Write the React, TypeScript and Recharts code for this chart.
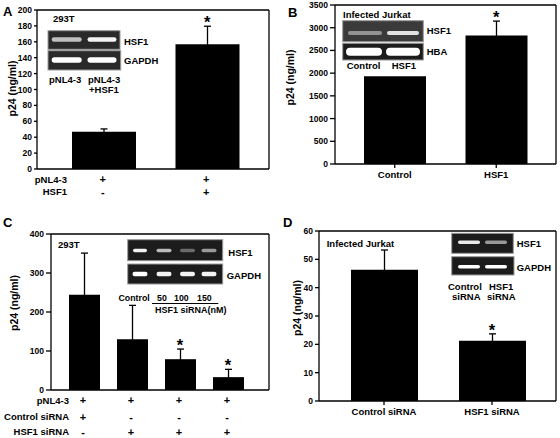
import React from "react";
import {
  BarChart,
  Bar,
  XAxis,
  YAxis,
  ErrorBar,
  ReferenceDot,
  CartesianGrid,
} from "recharts";

const FONT = "'Liberation Sans', Arial, Helvetica, sans-serif";

// A: 293T, pNL4-3 with / without HSF1
const aCategories = ["pNL4-3", "pNL4-3+HSF1"];
const aValues = [47, 157];
const aErrors = [3.4, 22.6];
const aStars = [false, true];
const aRowNames = ["pNL4-3", "HSF1"];
const aRowSigns = [
  ["+", "+"],
  ["-", "+"],
];
const aTicks = [0, 20, 40, 60, 80, 100, 120, 140, 160, 180, 200];

// B: infected Jurkat, HSF1 overexpression
const bCategories = ["Control", "HSF1"];
const bValues = [1930, 2828];
const bErrors = [0, 318];
const bStars = [false, true];
const bTicks = [0, 500, 1000, 1500, 2000, 2500, 3000, 3500];

// C: 293T, HSF1 siRNA dose
const cCategories = ["Control", "50", "100", "150"];
const cValues = [244, 130, 79, 33];
const cErrors = [107, 87, 26, 20];
const cStars = [false, false, true, true];
const cRowNames = ["pNL4-3", "Control siRNA", "HSF1 siRNA"];
const cRowSigns = [
  ["+", "+", "+", "+"],
  ["+", "-", "-", "-"],
  ["-", "+", "+", "+"],
];
const cTicks = [0, 100, 200, 300, 400];

// D: infected Jurkat, siRNA knockdown
const dCategories = ["Control siRNA", "HSF1 siRNA"];
const dValues = [46.3, 21.3];
const dErrors = [7, 2.4];
const dStars = [false, true];
const dTicks = [0, 10, 20, 30, 40, 50, 60];

// only the upper half of each error bar shows above the black bar,
// so a symmetric error is fine; zero errors are dropped
const toRows = (cats: string[], vals: number[], errs: number[], stars: boolean[]) =>
  cats.map((c, i) => ({
    cat: c,
    value: vals[i],
    err: errs[i] > 0 ? errs[i] : undefined,
    top: vals[i] + errs[i],
    star: stars[i],
  }));

const txt = { fontFamily: FONT, fontWeight: "bold" as const, fill: "#000" };

function AxisTitle({ viewBox, cx, dy }: any) {
  const x = viewBox.x + cx;
  const y = viewBox.y + viewBox.height / 2 + dy;
  return (
    <text
      x={x}
      y={y}
      transform={`rotate(-90 ${x} ${y})`}
      textAnchor="middle"
      dominantBaseline="central"
      fontSize={10.5}
      {...txt}
    >
      p24 (ng/ml)
    </text>
  );
}

const signTick = (rows: string[][], offsets: number[]) => (t: any) => {
  const idx = t.index ?? t.payload?.index ?? 0;
  return (
    <g>
      {rows.map((r, i) => (
        <text
          key={i}
          x={t.x - 1}
          y={t.y + offsets[i]}
          textAnchor="middle"
          dominantBaseline="central"
          fontSize={11}
          {...txt}
        >
          {r[idx]}
        </text>
      ))}
    </g>
  );
};

function Panel(p: any) {
  const line = { stroke: "#000", strokeWidth: 1.3 };
  return (
    <div style={{ position: "absolute", left: p.left, top: p.top }}>
      <BarChart width={p.width} height={p.height} data={p.data} margin={p.margin}>
        <CartesianGrid
          stroke="#000"
          strokeWidth={1.3}
          horizontalCoordinatesGenerator={(g: any) => [g.offset.top]}
          verticalCoordinatesGenerator={(g: any) => [g.offset.left + g.offset.width]}
        />
        <XAxis
          dataKey="cat"
          interval={0}
          height={p.xHeight}
          padding={p.padding}
          axisLine={line}
          tickLine={p.xTick ? false : line}
          tickSize={p.xTick ? 0 : 4}
          tickMargin={p.xTick ? 0 : 3}
          tick={p.xTick ?? { ...txt, fontSize: 9.5 }}
        />
        <YAxis
          type="number"
          domain={[0, p.ticks[p.ticks.length - 1]]}
          ticks={p.ticks}
          interval={0}
          width={p.yWidth}
          tickSize={p.yTickSize}
          tickMargin={2}
          axisLine={line}
          tickLine={line}
          tick={{ ...txt, fontSize: 8.5 }}
          label={<AxisTitle cx={p.titleX} dy={p.titleDy} />}
        />
        <Bar dataKey="value" fill="#000" barSize={p.barSize} isAnimationActive={false}>
          <ErrorBar dataKey="err" width={3.5} stroke="#000" strokeWidth={1.3} direction="y" />
        </Bar>
        {p.data
          .filter((d: any) => d.star)
          .map((d: any) => (
            <ReferenceDot
              key={d.cat}
              x={d.cat}
              y={d.top}
              r={0}
              shape={(s: any) => (
                <text x={s.cx} y={s.cy + 2} textAnchor="middle" fontSize={16.5} {...txt}>
                  *
                </text>
              )}
            />
          ))}
      </BarChart>
    </div>
  );
}

function Gel({ x, y, w, h, bg = "#1c1c1c", bandY, bandH, lanes }: any) {
  return (
    <g>
      <rect x={x} y={y} width={w} height={h} fill={bg} stroke="#999" strokeWidth={1} />
      {lanes.map((l: number[], i: number) => (
        <rect
          key={i}
          x={l[0] - l[1] / 2}
          y={bandY - bandH / 2}
          width={l[1]}
          height={bandH}
          rx={bandH / 2}
          fill="#fff"
          opacity={l[2]}
          filter="url(#bandBlur)"
        />
      ))}
    </g>
  );
}

function T({ x, y, s = 9.5, anchor = "start", children }: any) {
  return (
    <text x={x} y={y} fontSize={s} textAnchor={anchor} dominantBaseline="central" {...txt}>
      {children}
    </text>
  );
}

function Overlay() {
  return (
    <svg
      width={560}
      height={438}
      style={{ position: "absolute", left: 0, top: 0, pointerEvents: "none" }}
    >
      <defs>
        <filter id="bandBlur" x="-20%" y="-100%" width="140%" height="300%">
          <feGaussianBlur stdDeviation="0.7" />
        </filter>
      </defs>
      {/* panel letters */}
      <text x={3} y={16} fontSize={13} {...txt}>A</text>
      <text x={288} y={17} fontSize={13} {...txt}>B</text>
      <text x={3} y={227} fontSize={13} {...txt}>C</text>
      <text x={283} y={227} fontSize={13} {...txt}>D</text>

      {/* row labels */}
      {aRowNames.map((n, i) => (
        <T key={n} x={67} y={[179, 191.7][i]} anchor="end">{n}</T>
      ))}
      {cRowNames.map((n, i) => (
        <T key={n} x={69} y={[400.5, 416.5, 431][i]} anchor="end">{n}</T>
      ))}

      {/* A inset */}
      <T x={53} y={18.5}>293T</T>
      <Gel x={48} y={30.7} w={72} h={18.6} bg="#2a2a2a" bandY={39.5} bandH={4.5}
        lanes={[[66.7, 30, 0.7], [102, 29, 0.95]]} />
      <Gel x={48} y={50.7} w={72.7} h={19.3} bg="#2a2a2a" bandY={60} bandH={5.5}
        lanes={[[66.7, 30, 1], [102, 29, 1]]} />
      <T x={124} y={41}>HSF1</T>
      <T x={124} y={60.5}>GAPDH</T>
      <T x={49} y={79.3}>pNL4-3</T>
      <T x={88} y={79.3}>pNL4-3</T>
      <T x={89} y={89.3}>+HSF1</T>

      {/* B inset */}
      <T x={343} y={14.3}>Infected Jurkat</T>
      <Gel x={342.7} y={20.7} w={80.6} h={21} bg="#3a3a3a" bandY={33} bandH={4}
        lanes={[[365, 34, 0.45], [403, 32, 0.85]]} />
      <Gel x={342.7} y={43.3} w={80.6} h={16.7} bandY={51.7} bandH={8}
        lanes={[[364, 36, 1], [403, 34, 1]]} />
      <T x={426.7} y={30}>HSF1</T>
      <T x={426.7} y={51.7}>HBA</T>
      <T x={346.7} y={65.3}>Control</T>
      <T x={391.7} y={65.3}>HSF1</T>

      {/* C inset */}
      <T x={58} y={244.7}>293T</T>
      <Gel x={127.7} y={239.7} w={95} h={21} bandY={250.5} bandH={3.5}
        lanes={[[140, 14, 0.95], [164, 15, 0.7], [187.5, 15, 0.35], [209, 15, 0.55]]} />
      <Gel x={127.7} y={264} w={95} h={20} bandY={274} bandH={4.5}
        lanes={[[140, 15, 1], [164, 15, 0.95], [187.5, 15, 0.95], [209, 15, 0.95]]} />
      <T x={228.3} y={252.3}>HSF1</T>
      <T x={226.7} y={275.7}>GAPDH</T>
      <T x={118.5} y={297.5} s={8.8}>Control</T>
      <T x={157} y={297.5} s={8.8}>50</T>
      <T x={174} y={297.5} s={8.8}>100</T>
      <T x={197} y={297.5} s={8.8}>150</T>
      <line x1={152} x2={218.3} y1={303.5} y2={303.5} stroke="#000" strokeWidth={1} />
      <T x={155} y={310} s={9}>HSF1 siRNA(nM)</T>

      {/* D inset */}
      <T x={326.7} y={243}>Infected Jurkat</T>
      <Gel x={451.7} y={233.3} w={61.6} h={20} bandY={242.3} bandH={3.5}
        lanes={[[469, 22, 0.9], [496, 22, 0.55]]} />
      <Gel x={451.7} y={256.7} w={62.3} h={18.3} bandY={266.7} bandH={3.5}
        lanes={[[469, 22, 1], [496, 22, 1]]} />
      <T x={516.7} y={243.3}>HSF1</T>
      <T x={516.7} y={267.7}>GAPDH</T>
      <T x={448} y={286.7}>Control</T>
      <T x={452} y={296.7}>siRNA</T>
      <T x={489} y={286.7}>HSF1</T>
      <T x={487} y={296.7}>siRNA</T>
    </svg>
  );
}

export default function App() {
  return (
    <div
      style={{
        position: "absolute",
        left: 0,
        top: 0,
        width: 560,
        height: 438,
        background: "#fff",
        fontFamily: FONT,
      }}
    >
      <Panel
        left={0} top={0} width={280} height={200}
        margin={{ top: 10, right: 11, bottom: 1, left: 0 }}
        data={toRows(aCategories, aValues, aErrors, aStars)}
        ticks={aTicks} yWidth={37} yTickSize={3} xHeight={30}
        padding={{ left: 15, right: 10 }} barSize={64}
        xTick={signTick(aRowSigns, [9.7, 22.7])}
        titleX={11.5} titleDy={-1}
      />
      <Panel
        left={280} top={0} width={280} height={200}
        margin={{ top: 5, right: 4, bottom: 6, left: 0 }}
        data={toRows(bCategories, bValues, bErrors, bStars)}
        ticks={bTicks} yWidth={55} yTickSize={5} xHeight={30}
        padding={{ left: 9, right: 9 }} barSize={62}
        titleX={10} titleDy={-7}
      />
      <Panel
        left={0} top={219} width={280} height={219}
        margin={{ top: 15, right: 11, bottom: 3, left: 0 }}
        data={toRows(cCategories, cValues, cErrors, cStars)}
        ticks={cTicks} yWidth={51} yTickSize={5} xHeight={45}
        padding={{ left: 9, right: 17 }} barSize={31}
        xTick={signTick(cRowSigns, [10.3, 26.5, 41.5])}
        titleX={13.5} titleDy={-9}
      />
      <Panel
        left={280} top={219} width={280} height={219}
        margin={{ top: 12, right: 4, bottom: 7, left: 0 }}
        data={toRows(dCategories, dValues, dErrors, dStars)}
        ticks={dTicks} yWidth={39} yTickSize={4} xHeight={30}
        padding={{ left: 11, right: 10 }} barSize={67}
        titleX={16.7} titleDy={-8}
      />
      <Overlay />
    </div>
  );
}
